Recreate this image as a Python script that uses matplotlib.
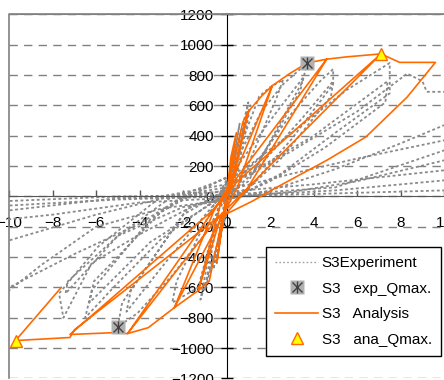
import matplotlib
matplotlib.use('Agg')
import matplotlib.pyplot as plt
from matplotlib.legend_handler import HandlerTuple

plt.rcParams['font.family'] = ['Liberation Sans', 'DejaVu Sans']

# experiment (gray dotted)
exp_x = [0, 0.3, 0.05, -0.3, -0.05,
         0.6, 0.1, -0.6, -0.1,
         1.0, 0.3, -1.0, -0.3,
         1.1, 0.35, -1.2, -0.35,
         1.5, 2.0, 2.6, 2.3, 0.6, -0.2, -1.3, -2.5, -2.3, -0.6,
         0.5, 1.6, 2.6, 3.7, 3.5, 1.2, 0.0, -1.0, -2.5, -4.1, -5.0, -4.8, -2.0, -0.3,
         0.5, 2.0, 3.5, 3.4, 1.0, -0.5, -2.5, -4.6, -4.4, -1.8, -0.3,
         1.5, 3.0, 4.3, 4.9, 4.9, 3.0, 1.0, -0.5, -3.0, -5.2, -6.5, -6.2, -3.5, -1.5,
         1.5, 3.5, 4.9, 4.8, 2.5, 0.8, -0.5, -3.5, -6.3, -6.1, -3.0, -1.2,
         1.0, 3.0, 5.5, 7.5, 7.5, 5.0, 2.5, 0.5, -1.5, -4.0, -6.2, -7.5, -7.7, -5.9, -3.0, 0.0,
         1.0, 4.0, 7.4, 7.3, 4.5, 2.0, 0.3, -2.0, -5.0, -7.4, -7.3, -5.0, -2.5, 0.0,
         3.0, 6.0, 8.3, 9.0, 9.2, 10.5, 12.0, 11.5, 10.0, 8.0, 5.0, 2.0, 0.0, -3.0, -6.0, -8.5,
         -10.0, -10.2, -10.0, -7.0, -4.0, -2.0, 0.0,
         3.0, 6.0, 10.0, 13.0, 14.5, 14.0, 12.0, 10.0, 6.0, 3.0, 0.0, -4.0, -8.0, -10.0,
         -14.0, -12.0, -10.0, -6.0, -2.0, 0.0,
         4.0, 10.0, 16.0, 15.0, 10.0, 5.0, 0.0, -5.0, -10.0, -16.0, -15.0, -10.0, -5.0, 0.0,
         5.0, 10.0, 18.0, 17.0, 10.0, 5.0, 0.0, -5.0, -10.0, -18.0]
exp_y = [0, 300, 20, -280, -20,
         480, 30, -480, -30,
         620, 60, -620, -50,
         600, 50, -680, -40,
         660, 720, 770, 650, 80, 0, -600, -700, -560, -60,
         250, 560, 740, 880, 760, 150, 0, -250, -520, -770, -860, -700, -120, 20,
         200, 500, 780, 700, 100, -40, -380, -760, -620, -80, 10,
         250, 550, 760, 840, 740, 380, 50, -20, -280, -600, -800, -620, -150, 40,
         200, 520, 760, 660, 250, 30, -30, -300, -700, -560, -100, 40,
         200, 420, 700, 880, 680, 420, 150, 0, -60, -250, -440, -800, -640, -330, 0, 80,
         150, 400, 760, 620, 320, 100, -10, -70, -260, -640, -560, -260, 0, 60,
         300, 560, 810, 760, 690, 690, 620, 520, 470, 350, 180, 40, -20, -80, -200, -450,
         -620, -700, -600, -380, -180, 0, 40,
         150, 250, 370, 450, 500, 400, 300, 238, 100, 30, -10, -40, -120, -150,
         -400, -330, -290, -120, 20, 30,
         80, 172, 300, 200, 106, 40, 0, -20, -60, -200, -150, -30, 0, 10,
         60, 304, 650, 600, 40, 20, 0, -10, -92, -300]

# analysis (orange)
ana_x = [0, 0.2, 0.45, 0.05, -0.1, -0.45,
         -0.05, 0.1, 0.75, 1.0,
         0.2, -0.2, -0.8, -1.3,
         -0.3, 0.2, 1.0, 1.6, 2.1,
         0.5, -0.3, -1.3, -2.4,
         -0.6, 0.3, 2.1, 2.9, 3.7, 4.6,
         0.9, -0.3, -2.4, -3.6, -4.55,
         -0.6, 0.4, 4.6, 5.5, 7.1,
         1.0, -0.4, -4.55, -5.2, -7.2,
         -0.7, 0.5, 7.1, 7.95, 9.6,
         8.3, 6.4, 4.6, 2.3, 1.2, -0.5, -7.0, -7.2, -9.7, -7.6]
ana_y = [0, 260, 420, 30, -100, -440,
         -30, 100, 490, 560,
         40, -150, -560, -620,
         -60, 100, 560, 660, 730,
         60, -150, -620, -733,
         -100, 120, 730, 810, 880, 905,
         40, -160, -733, -865, -904,
         -90, 110, 905, 920, 940,
         60, -140, -904, -898, -910,
         -100, 100, 940, 884, 884,
         655, 392, 238, 60, -30, -150, -880, -930, -950, -600]

exp_qmax_x = [3.7, -5.0]
exp_qmax_y = [880, -860]
ana_qmax_x = [7.1, -9.7]
ana_qmax_y = [940, -950]

x_ticks = list(range(-10, 11, 2))
y_ticks = list(range(-1200, 1201, 200))

fig = plt.figure(figsize=(4.44, 3.80), dpi=100)
ax = fig.add_axes([0.0203, 0.004, 0.98, 0.958])
ax.set_xlim(-10, 10)
ax.set_ylim(-1200, 1200)

ax.plot(exp_x, exp_y, color='#8a8a8a', linestyle=(0, (1.6, 1.4)), linewidth=1.3, zorder=2)
ax.plot(ana_x, ana_y, color='#ff6a00', linewidth=1.2, zorder=3)

sq, = ax.plot(exp_qmax_x, exp_qmax_y, 's', ms=10.5, mfc='#b0b0b0', mec='none', zorder=4)
xm, = ax.plot(exp_qmax_x, exp_qmax_y, 'x', ms=7.5, mec='#404040', mew=1.0, zorder=5)
vm, = ax.plot(exp_qmax_x, exp_qmax_y, '|', ms=9, mec='#404040', mew=1.0, zorder=5)
tri, = ax.plot(ana_qmax_x, ana_qmax_y, '^', ms=9, mfc='#ffff00', mec='#ff6a00', mew=1.0, zorder=5)

ax.set_xticks(x_ticks)
ax.set_yticks(y_ticks)
ax.yaxis.grid(True, color='#808080', linestyle=(0, (6, 4.5)), linewidth=1.0)
ax.set_axisbelow(True)

ax.spines['left'].set_position(('data', 0))
ax.spines['bottom'].set_position(('data', 0))
ax.spines['left'].set_color('black')
ax.spines['bottom'].set_color('#555555')
ax.spines['right'].set_color('none')
ax.spines['top'].set_color('#808080')
ax.plot([0, 0, 1], [0, 1, 1], transform=ax.transAxes, color='#808080', linewidth=1.2, clip_on=False, zorder=1)

ax.tick_params(axis='y', direction='inout', length=8, width=1, pad=5, labelsize=11)
ax.tick_params(axis='x', direction='in', length=4, width=1, pad=14, labelsize=11, color='#555555')

exp_line, = ax.plot([], [], color='#a0a0a0', linestyle=(0, (1.2, 1.6)), linewidth=1.0)
ana_line, = ax.plot([], [], color='#ff6a00', linewidth=1.2)
leg = ax.legend([exp_line, (sq, xm, vm), ana_line, tri],
                ['S3Experiment', 'S3   exp_Qmax.', 'S3   Analysis', 'S3   ana_Qmax.'],
                handler_map={tuple: HandlerTuple(ndivide=1, pad=0)},
                loc='upper left', bbox_to_anchor=(266 / 444, 1 - 247 / 380),
                bbox_transform=fig.transFigure, borderaxespad=0,
                fontsize=11, handlelength=2.8, handletextpad=0.25, labelspacing=0.75,
                borderpad=0.6, fancybox=False, framealpha=1, edgecolor='black')
leg.get_frame().set_linewidth(1.0)
leg.set_zorder(10)

fig.savefig('out.png', dpi=100)
